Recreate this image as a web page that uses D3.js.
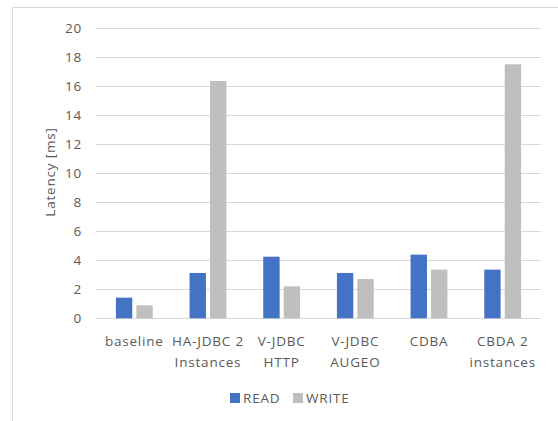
<!DOCTYPE html>
<html>
<head>
<meta charset="utf-8">
<script src="https://cdn.jsdelivr.net/npm/d3@7"></script>
<style>
  html, body { margin: 0; padding: 0; background: #fff; }
  svg { display: block; }
  text { font-family: "Open Sans", Lato, sans-serif; fill: #595959; letter-spacing: 0.8px; }
</style>
</head>
<body>
<svg id="chart" width="558" height="421"></svg>
<script>
// Latency per configuration, READ vs WRITE
const categories = [
  ["baseline"],
  ["HA-JDBC 2", "Instances"],
  ["V-JDBC", "HTTP"],
  ["V-JDBC", "AUGEO"],
  ["CDBA"],
  ["CBDA 2", "instances"]
];
const seriesNames = ["READ", "WRITE"];
const readValues  = [1.42, 3.12, 4.24, 3.12, 4.38, 3.35];
const writeValues = [0.89, 16.33, 2.2, 2.7, 3.35, 17.48];
const yTicks = [0, 2, 4, 6, 8, 10, 12, 14, 16, 18, 20];
const yLabel = "Latency [ms]";
const colors = ["#4472C4", "#BFBFBF"];

const svg = d3.select("#chart");
const W = 558, H = 421;
const FS = "13.5px";

// chart frame
svg.append("rect")
  .attr("x", 12.5).attr("y", 7.5)
  .attr("width", W).attr("height", H)
  .attr("fill", "none").attr("stroke", "#D9D9D9").attr("stroke-width", 1);

const plot = { left: 96, right: 541, top: 27.7, bottom: 318.3 };

const x0 = d3.scaleBand()
  .domain(d3.range(categories.length))
  .range([plot.left, plot.right])
  .paddingInner(0.5).paddingOuter(0.27);
const x1 = d3.scaleBand()
  .domain(seriesNames)
  .range([0, x0.bandwidth()])
  .paddingInner(0.2);
const y = d3.scaleLinear().domain([0, 20]).range([plot.bottom, plot.top]);

// gridlines
svg.append("g")
  .selectAll("line")
  .data(yTicks)
  .join("line")
  .attr("x1", plot.left).attr("x2", plot.right)
  .attr("y1", d => Math.round(y(d)) + 0.5).attr("y2", d => Math.round(y(d)) + 0.5)
  .attr("stroke", "#D9D9D9").attr("stroke-width", 1);

// y axis tick labels
const yAxis = d3.axisLeft(y).tickValues(yTicks).tickSize(0).tickPadding(0);
const gy = svg.append("g").attr("transform", `translate(82,0)`).call(yAxis);
gy.select(".domain").remove();
gy.selectAll("text")
  .attr("font-size", FS)
  .style("font-family", "'Open Sans', Lato, sans-serif")
  .attr("fill", "#595959");

// y axis title
svg.append("text")
  .attr("transform", `translate(55,${172}) rotate(-90)`)
  .attr("text-anchor", "middle")
  .attr("font-size", FS)
  .text(yLabel);

// bars
const groups = svg.append("g")
  .selectAll("g")
  .data(categories.map((c, i) => ({ i, vals: [readValues[i], writeValues[i]] })))
  .join("g")
  .attr("transform", d => `translate(${x0(d.i)},0)`);

groups.selectAll("rect")
  .data(d => d.vals.map((v, k) => ({ k, v })))
  .join("rect")
  .attr("x", d => x1(seriesNames[d.k]))
  .attr("width", x1.bandwidth())
  .attr("y", d => y(d.v))
  .attr("height", d => y(0) - y(d.v))
  .attr("fill", d => colors[d.k]);

// category labels
const catG = svg.append("g")
  .selectAll("text")
  .data(categories.map((c, i) => ({ c, i })))
  .join("text")
  .attr("x", d => x0(d.i) + x0.bandwidth() / 2)
  .attr("y", 346)
  .attr("text-anchor", "middle")
  .attr("font-size", FS);
catG.selectAll("tspan")
  .data(d => d.c.map((t, j) => ({ t, j, x: x0(d.i) + x0.bandwidth() / 2 })))
  .join("tspan")
  .attr("x", d => d.x)
  .attr("dy", d => d.j === 0 ? 0 : 21)
  .text(d => d.t);

// legend
const legendX = [230, 293];
const leg = svg.append("g")
  .selectAll("g")
  .data(seriesNames)
  .join("g")
  .attr("transform", (d, i) => `translate(${legendX[i]},393)`);
leg.append("rect").attr("width", 10).attr("height", 10).attr("fill", (d, i) => colors[i]);
leg.append("text").attr("x", 13).attr("y", 10).attr("font-size", FS).text(d => d);
</script>
</body>
</html>
